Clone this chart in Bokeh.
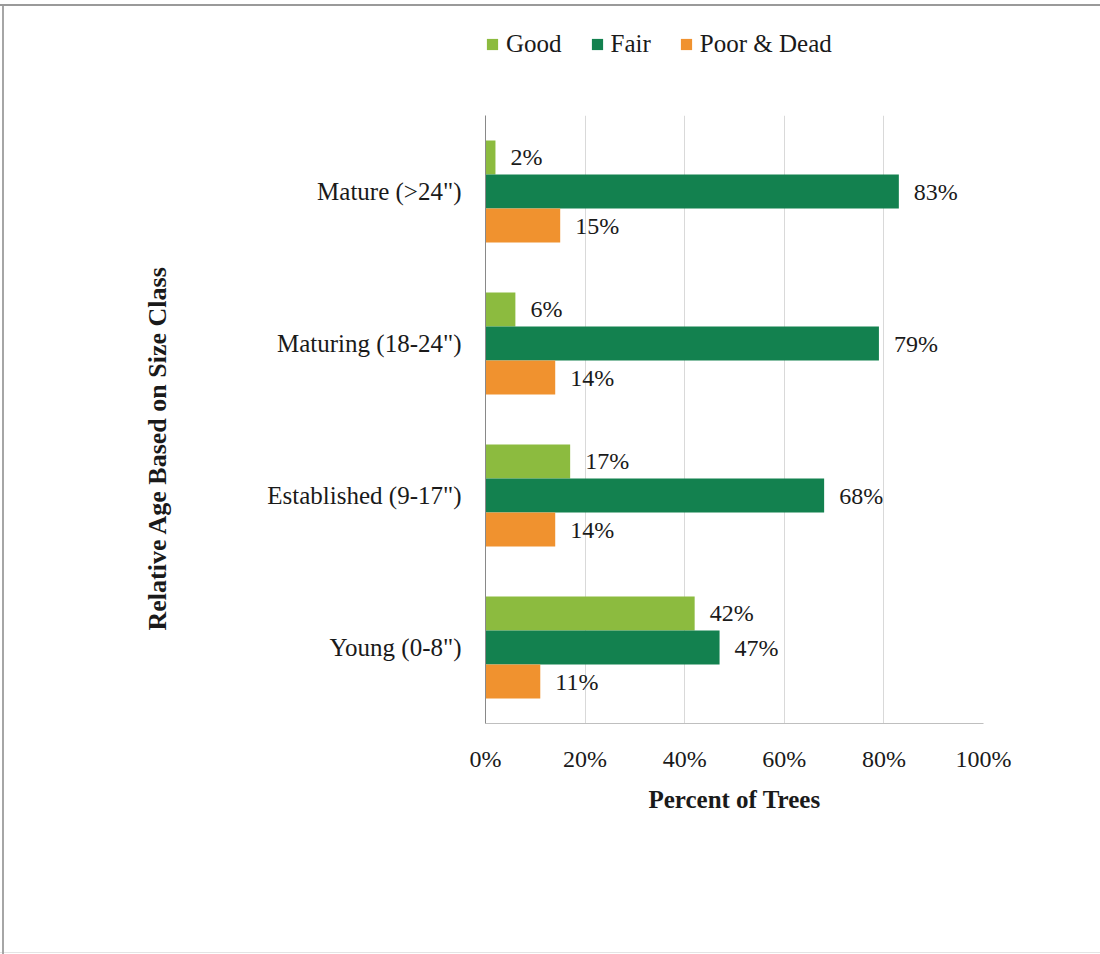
from bokeh.core.properties import value
from bokeh.embed import file_html
from bokeh.layouts import column
from bokeh.models import (ColumnDataSource, FactorRange, Legend, LegendItem,
                          Range1d, Title)
from bokeh.plotting import figure
from bokeh.resources import INLINE
from bokeh.transform import dodge

# Tree condition by relative age (percent of trees in each size class)
categories = ['Young (0-8")', 'Established (9-17")', 'Maturing (18-24")', 'Mature (>24")']
good = [42, 17, 6, 2]
fair = [47, 68, 79, 83]
poor_dead = [11, 14, 14, 15]
series_names = ["Good", "Fair", "Poor & Dead"]
x_ticks = [0, 20, 40, 60, 80, 100]

FONT = "Liberation Serif"
COLORS = ["#8CBB3F", "#13814F", "#F0922F"]
INK = "#1a1a1a"
BAR_H = 0.224
KEYS = ["good", "fair", "poor"]

source = ColumnDataSource(dict(
    cat=categories,
    good=good,
    fair=fair,
    poor=poor_dead,
    good_lbl=[f"{v}%" for v in good],
    fair_lbl=[f"{v}%" for v in fair],
    poor_lbl=[f"{v}%" for v in poor_dead],
))

# ---- main bar chart -------------------------------------------------------
p = figure(
    width=1100, height=839,
    y_range=FactorRange(*categories),
    x_range=Range1d(0, 100),
    output_backend="svg", toolbar_location=None,
    min_border_left=485, min_border_right=117,
    min_border_top=0, min_border_bottom=231,
    outline_line_color=None, border_fill_color=None,
)

for key, color, off in zip(KEYS, COLORS, [BAR_H, 0.0, -BAR_H]):
    p.hbar(y=dodge("cat", off, range=p.y_range), left=0, right=key,
           height=BAR_H, source=source, fill_color=color, line_color=None)
    p.text(x=key, y=dodge("cat", off, range=p.y_range), text=f"{key}_lbl",
           source=source, x_offset=15, text_align="left",
           text_baseline="middle", text_font=value(FONT), text_font_size="24px",
           text_color=INK)

p.xaxis.ticker = x_ticks
p.xaxis.major_label_overrides = {t: f"{t}%" for t in x_ticks}
p.xaxis.axis_label = "Percent of Trees"
p.xaxis.axis_label_text_font = FONT
p.xaxis.axis_label_text_font_size = "25px"
p.xaxis.axis_label_text_font_style = "bold"
p.xaxis.axis_label_text_color = INK
p.xaxis.axis_label_standoff = 11
p.xaxis.axis_line_color = "#BFBFBF"
p.xaxis.major_label_standoff = 22
p.xaxis.major_label_text_font_size = "24px"

p.yaxis.axis_line_color = "#898989"
p.yaxis.major_label_standoff = 24
p.yaxis.major_label_text_font_size = "25px"

for ax in (p.xaxis, p.yaxis):
    ax.major_tick_line_color = None
    ax.minor_tick_line_color = None
    ax.major_tick_out = 0
    ax.major_label_text_font = FONT
    ax.major_label_text_color = INK

p.xgrid.grid_line_color = "#D9D9D9"
p.ygrid.grid_line_color = None

p.add_layout(Title(text="Relative Age Based on Size Class", align="left",
                   offset=93, standoff=186, text_font=FONT,
                   text_font_size="26px", text_font_style="bold",
                   text_color=INK), "left")

# ---- legend strip across the top ------------------------------------------
lg = figure(
    width=1100, height=115,
    x_range=Range1d(0, 1), y_range=FactorRange(*categories),
    output_backend="svg", toolbar_location=None,
    min_border=0, outline_line_color=None, border_fill_color=None,
    background_fill_color=None,
)
lg.axis.visible = False
lg.grid.visible = False

legend_items = []
for key, name, color in zip(KEYS, series_names, COLORS):
    r = lg.hbar(y="cat", left=0, right=key, height=BAR_H, source=source,
                fill_color=color, line_color=None, visible=False)
    legend_items.append(LegendItem(label=name, renderers=[r]))

lg.add_layout(Legend(
    items=legend_items, location=(0, 57), orientation="horizontal",
    label_text_font=FONT, label_text_font_size="25px", label_text_color=INK,
    glyph_width=14, glyph_height=14, label_standoff=7, spacing=28,
    padding=0, margin=0, inactive_fill_alpha=0, click_policy="none",
    border_line_color=None, background_fill_alpha=0,
))

layout = column(lg, p, styles={
    "background-image": "linear-gradient(#9a9a9a,#9a9a9a), "
                        "linear-gradient(#a6a6a6,#a6a6a6), "
                        "linear-gradient(#e4e4e4,#e4e4e4)",
    "background-size": "100% 2px, 2px 100%, 100% 1px",
    "background-position": "0 4px, 2px 4px, 0 952px",
    "background-repeat": "no-repeat",
})
open("out.html", "w").write(file_html(layout, INLINE))
